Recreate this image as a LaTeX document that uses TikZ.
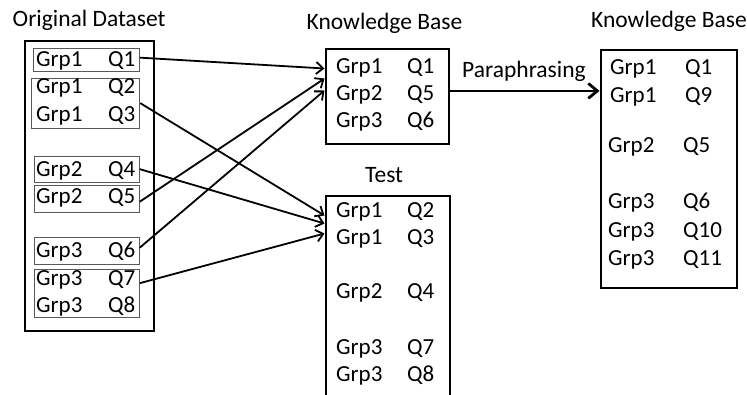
\documentclass[tikz,border=0pt]{standalone}
\usepackage{fontspec}
\setmainfont{Carlito}
\usetikzlibrary{arrows.meta}
\begin{document}
\begin{tikzpicture}[x=1pt,y={(0,-1pt)},
  ttl/.style={font=\fontsize{23.5}{26}\selectfont, inner sep=0pt, anchor=base west},
  txt/.style={font=\fontsize{23}{25}\selectfont, inner sep=0pt, anchor=base west},
  bigbox/.style={draw, line width=2.8pt, anchor=north west, inner sep=0pt},
  smallbox/.style={draw=black!65, line width=1.3pt, anchor=north west, inner sep=0pt},
  arr/.style={line width=1.8pt, -{Straight Barb[length=7pt,width=12pt]}},
  parr/.style={line width=2.8pt, -{Straight Barb[length=9pt,width=15pt]}}
]
\useasboundingbox (0,0) rectangle (747,394);

% titles
\node[ttl] (tod) at (12.5,26) {Original Dataset};
\node[ttl] (tkb) at (306.5,29) {Knowledge Base};
\node[ttl] (ttest) at (365,182) {Test};
\node[ttl] (tkb2) at (591,27) {Knowledge Base};
\node[ttl] (para) at (462,77) {Paraphrasing};

% big boxes
\node[bigbox, minimum width=129pt, minimum height=290pt] (od) at (23.5,39.5) {};
\node[bigbox, minimum width=123pt, minimum height=95pt] (kb) at (324.5,47.5) {};
\node[bigbox, minimum width=124pt, minimum height=230pt] (test) at (324.5,194.5) {};
\node[bigbox, minimum width=136pt, minimum height=238pt] (kb2) at (599.5,48.5) {};

% small boxes in original dataset
\node[smallbox, minimum width=106pt, minimum height=23pt] (b1) at (32.5,47.5) {};
\node[smallbox, minimum width=108pt, minimum height=50pt] (b23) at (31,77.5) {};
\node[smallbox, minimum width=105pt, minimum height=26pt] (b4) at (33.5,155.5) {};
\node[smallbox, minimum width=105pt, minimum height=27pt] (b5) at (33.5,184.5) {};
\node[smallbox, minimum width=105pt, minimum height=27pt] (b6) at (33.5,236.5) {};
\node[smallbox, minimum width=105pt, minimum height=48pt] (b78) at (33.5,268.5) {};

% original dataset rows
\node[txt] (o1g) at (36,66) {Grp1};  \node[txt] (o1q) at (108,66) {Q1};
\node[txt] (o2g) at (36,93) {Grp1};  \node[txt] (o2q) at (108,93) {Q2};
\node[txt] (o3g) at (36,121) {Grp1}; \node[txt] (o3q) at (108,121) {Q3};
\node[txt] (o4g) at (36,176) {Grp2}; \node[txt] (o4q) at (108,176) {Q4};
\node[txt] (o5g) at (36,203) {Grp2}; \node[txt] (o5q) at (108,203) {Q5};
\node[txt] (o6g) at (36,257) {Grp3}; \node[txt] (o6q) at (108,257) {Q6};
\node[txt] (o7g) at (36,285) {Grp3}; \node[txt] (o7q) at (108,285) {Q7};
\node[txt] (o8g) at (36,312) {Grp3}; \node[txt] (o8q) at (108,312) {Q8};

% knowledge base rows
\node[txt] (k1g) at (336,73) {Grp1};  \node[txt] (k1q) at (407,73) {Q1};
\node[txt] (k2g) at (336,100) {Grp2}; \node[txt] (k2q) at (407,100) {Q5};
\node[txt] (k3g) at (336,127) {Grp3}; \node[txt] (k3q) at (407,127) {Q6};

% test rows
\node[txt] (s1g) at (336,217) {Grp1}; \node[txt] (s1q) at (407,217) {Q2};
\node[txt] (s2g) at (336,244) {Grp1}; \node[txt] (s2q) at (407,244) {Q3};
\node[txt] (s3g) at (336,298) {Grp2}; \node[txt] (s3q) at (407,298) {Q4};
\node[txt] (s4g) at (336,354) {Grp3}; \node[txt] (s4q) at (407,354) {Q7};
\node[txt] (s5g) at (336,381) {Grp3}; \node[txt] (s5q) at (407,381) {Q8};

% paraphrased knowledge base rows
\node[txt] (p1g) at (610,74) {Grp1};  \node[txt] (p1q) at (685,74) {Q1};
\node[txt] (p2g) at (610,102) {Grp1}; \node[txt] (p2q) at (685,102) {Q9};
\node[txt] (p3g) at (608,152) {Grp2}; \node[txt] (p3q) at (683,152) {Q5};
\node[txt] (p4g) at (608,208) {Grp3}; \node[txt] (p4q) at (683,208) {Q6};
\node[txt] (p5g) at (608,237) {Grp3}; \node[txt] (p5q) at (683,237) {Q10};
\node[txt] (p6g) at (608,265) {Grp3}; \node[txt] (p6q) at (683,265) {Q11};

% connectors
\draw[arr] ([yshift=2pt]b1.east) -- ([yshift=-21pt]kb.north west);
\draw[arr] ([yshift=-3pt]b5.east) -- ([yshift=-31pt]kb.north west);
\draw[arr] ([yshift=3pt]b6.east) -- ([yshift=-43pt]kb.north west);
\draw[arr] (b23.east) -- ([yshift=-21pt]test.north west);
\draw[arr] (b4.east) -- ([yshift=-29pt]test.north west);
\draw[arr] ([yshift=10pt]b78.east) -- ([yshift=-39pt]test.north west);

\coordinate (ps) at ([yshift=5.5pt]kb.east);
\draw[parr] (ps) -- (ps -| kb2.west);
\end{tikzpicture}
\end{document}
